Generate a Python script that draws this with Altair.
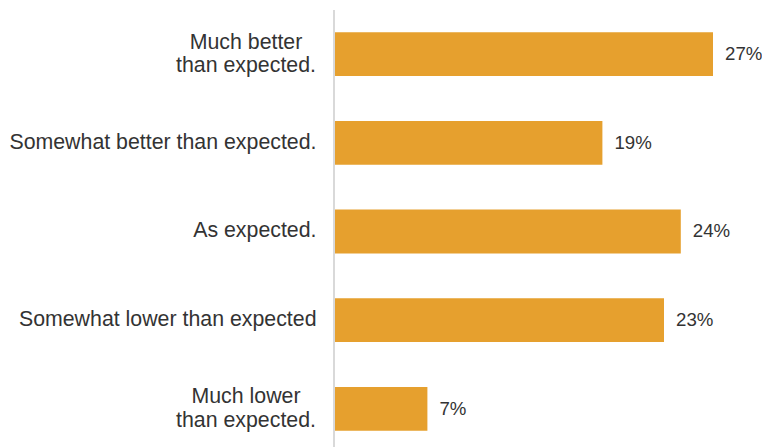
import altair as alt
import pandas as pd

categories = [
    "Much better\nthan expected.",
    "Somewhat better than expected.",
    "As expected.",
    "Somewhat lower than expected",
    "Much lower\nthan expected.",
]
values = [27.0, 19.1, 24.7, 23.5, 6.6]
labels = ["27%", "19%", "24%", "23%", "7%"]

df = pd.DataFrame({"cat": categories, "val": values, "lab": labels})

FONT = "Liberation Sans"
BAR = "#E6A02E"
TXT = "#333333"
LABEL_SIZE = 21.33

y_scale = alt.Scale(paddingInner=0.506, paddingOuter=0.1825, align=0.685)

y_enc = alt.Y(
    "cat:N",
    sort=categories,
    scale=y_scale,
    axis=alt.Axis(
        title=None,
        domain=False,
        ticks=False,
        labelPadding=19,
        labelFont=FONT,
        labelFontSize=LABEL_SIZE,
        labelColor=TXT,
        labelLimit=0,
        labelExpr="indexof(datum.label, '\\n') >= 0 ? '' : datum.label",
    ),
)
x_enc = alt.X("val:Q", scale=alt.Scale(domain=[0, 30], nice=False), axis=None)

bars = alt.Chart(df).mark_bar(color=BAR).encode(x=x_enc, y=y_enc)

text = alt.Chart(df).mark_text(
    align="left", baseline="middle", dx=12, font=FONT, fontSize=18.67, color=TXT
).encode(x=x_enc, y=y_enc, text="lab:N")

multi = (
    alt.Chart(df)
    .transform_filter("indexof(datum.cat, '\\n') >= 0")
    .mark_text(
        align="center",
        baseline="middle",
        lineBreak="\n",
        lineHeight=23.5,
        dy=-11.5,
        font=FONT,
        fontSize=LABEL_SIZE,
        color=TXT,
    )
    .encode(x=alt.value(-89), y=y_enc, text="cat:N")
)

rule = alt.Chart(df).mark_rule(color="#d9d9d9", strokeWidth=2).encode(
    x=alt.value(-1), y=alt.value(0), y2=alt.value(437)
)

chart = (
    alt.layer(bars, text, multi, rule)
    .properties(
        width=420,
        height=431,
        autosize=alt.AutoSizeParams(type="none"),
        padding={"top": 2, "left": 327, "bottom": 6, "right": 7},
    )
    .configure_view(stroke=None)
)

chart.save("out.html", embed_options={"renderer": "svg", "actions": False})
